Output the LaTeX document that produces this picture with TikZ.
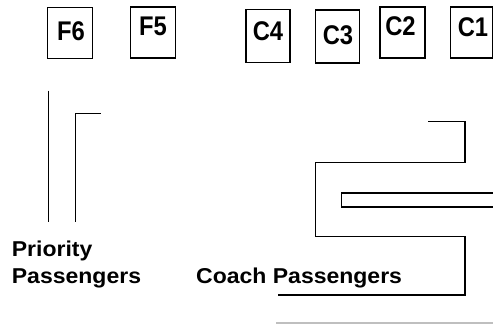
\documentclass[tikz,border=0pt]{standalone}
\usepackage{fontspec}
\setmainfont{Liberation Sans}
\begin{document}
\begin{tikzpicture}[x=1pt,y=-1pt,
  gatebox/.style={draw=black, line width=1.5pt, minimum width=44pt, minimum height=51pt, inner sep=0pt},
  gatetxt/.style={font=\bfseries\fontsize{27}{27}\selectfont, inner sep=0pt},
  lbl/.style={font=\bfseries\fontsize{21.5}{24}\selectfont, inner sep=0pt, anchor=base west},
  wall/.style={line width=1.5pt, draw=black}]
\useasboundingbox (0,0) rectangle (493,324);
% gate boxes
\node[gatebox, minimum width=45pt] (f6) at (70.2,32.8) {};
\node[gatebox, minimum width=45pt] (f5) at (153.2,32.5) {};
\node[gatebox, minimum height=53pt] (c4) at (268,36) {};
\node[gatebox, minimum height=53pt] (c3) at (337.3,36.3) {};
\node[gatebox, minimum width=45pt] (c2) at (402.7,32.5) {};
\node[gatebox, minimum width=42pt] (c1) at (471.6,32.5) {};
% gate labels
\node[gatetxt] (tf6) at (71,31) {\scalebox{0.88}[1]{F6}};
\node[gatetxt] (tf5) at (153,26.5) {\scalebox{0.88}[1]{F5}};
\node[gatetxt] (tc4) at (268,31) {\scalebox{0.88}[1]{C4}};
\node[gatetxt] (tc3) at (338,35.5) {\scalebox{0.88}[1]{C3}};
\node[gatetxt] (tc2) at (400.5,26.5) {\scalebox{0.88}[1]{C2}};
\node[gatetxt] (tc1) at (473,27.5) {\scalebox{0.88}[1]{C1}};
% priority lane
\draw[wall] (48.3,90.7) -- (48.3,221.7);
\draw[wall] (100.7,113.3) -- (75.7,113.3) -- (75.7,221.7);
% coach lane
\draw[wall] (428.3,121.5) -- (465,121.5) -- (465,162.7) -- (315.7,162.7) -- (315.7,236.7) -- (465,236.7) -- (465,295) -- (277.7,295);
\draw[wall] (496,193) -- (341.7,193) -- (341.7,207) -- (496,207);
\draw[black!25, line width=1.2pt] (276,323) -- (496,323);
% labels
\node[lbl] (pri1) at (11.7,256) {\scalebox{1.07}[1]{Priority}};
\node[lbl] (pri2) at (11.7,283) {\scalebox{1.07}[1]{Passengers}};
\node[lbl] (coach) at (196,283) {\scalebox{1.07}[1]{Coach Passengers}};
\end{tikzpicture}
\end{document}
